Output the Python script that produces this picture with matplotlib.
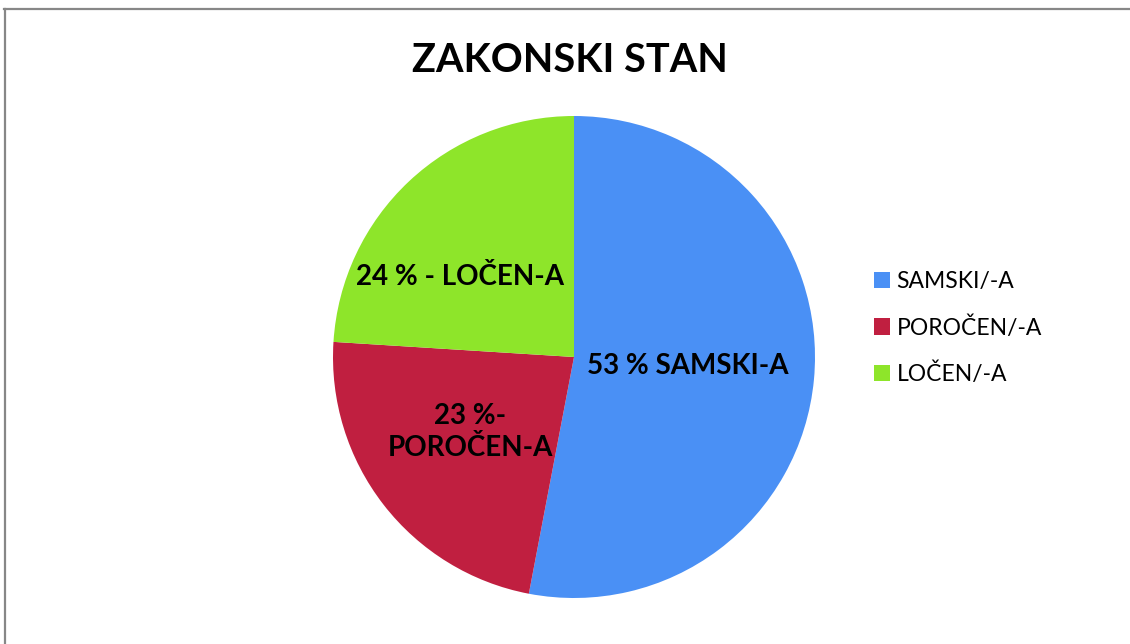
import matplotlib
matplotlib.use("Agg")
import matplotlib.pyplot as plt
from matplotlib.lines import Line2D
from matplotlib.patches import Patch

title = "ZAKONSKI STAN"
categories = ["SAMSKI/-A", "POROČEN/-A", "LOČEN/-A"]
values = [53, 23, 24]
slice_labels = ["53 % SAMSKI-A", "23 %-\nPOROČEN-A", "24 % - LOČEN-A"]
colors = ["#4a90f5", "#c01f40", "#8ee52a"]

W, H = 1130, 644
fig = plt.figure(figsize=(W / 100, H / 100), dpi=100)
fig.patch.set_facecolor("white")
font = ["Lato", "DejaVu Sans"]

# outer frame (left and top edges visible)
fig.add_artist(Line2D([5 / W, 5 / W], [0, 1 - 8.5 / H], transform=fig.transFigure,
                      color="#878787", lw=1.6))
fig.add_artist(Line2D([4 / W, 1], [1 - 8.5 / H, 1 - 8.5 / H], transform=fig.transFigure,
                      color="#878787", lw=1.6))

# pie axes: center (574, 357), radius 241 px
cx, cy, r = 574, 357, 241
ax = fig.add_axes([(cx - r) / W, (H - cy - r) / H, 2 * r / W, 2 * r / H])
wedges, _ = ax.pie(values, colors=colors, startangle=90, counterclock=False,
                   radius=1, wedgeprops=dict(linewidth=0))
ax.set_xlim(-1, 1)
ax.set_ylim(-1, 1)
ax.set_aspect("equal")
ax.axis("off")

# slice labels at pixel positions
label_pos = [(688, 366), (470, 432), (460, 277)]
for (px, py), txt in zip(label_pos, slice_labels):
    fig.text(px / W, 1 - py / H, txt, ha="center", va="center", fontsize=20,
             fontweight="bold", family=font, color="black", linespacing=1.25)

fig.text(570 / W, 1 - 61 / H, title, ha="center", va="center", fontsize=28.5,
         fontweight="bold", family=font, color="black")

handles = [Patch(facecolor=c, edgecolor="none") for c in colors]
leg = fig.legend(handles, categories, loc="center left",
                 bbox_to_anchor=(853 / W, 1 - 328 / H), frameon=False,
                 prop=dict(family=font, size=16.5), handlelength=0.7,
                 handleheight=0.7, handletextpad=0.3, labelspacing=1.05)

fig.savefig("out.png", dpi=100, facecolor="white")
